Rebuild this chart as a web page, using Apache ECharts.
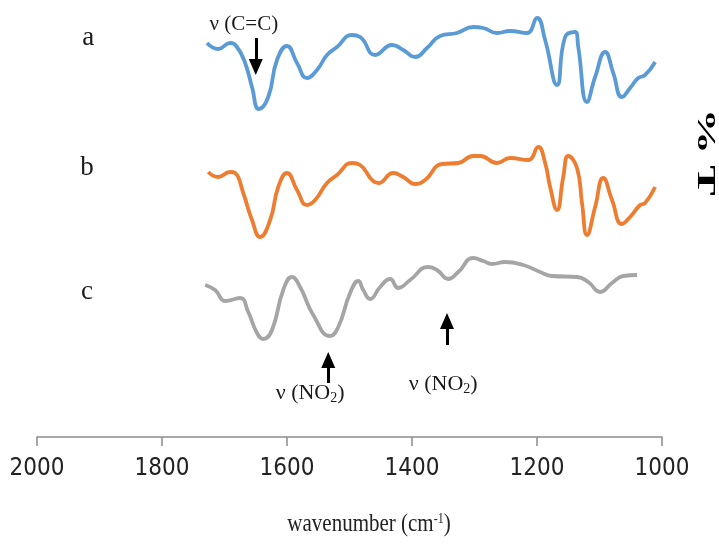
<!DOCTYPE html>
<html>
<head>
<meta charset="utf-8">
<script src="https://cdn.jsdelivr.net/npm/echarts@6/dist/echarts.min.js"></script>
<style>
  html, body { margin: 0; padding: 0; background: #fff; }
  #chart { width: 719px; height: 544px; }
</style>
</head>
<body>
<div id="chart"></div>
<script>
// wavenumber (cm-1) / relative transmittance (arbitrary offset units) for each spectrum
const waveA = [1728, 1710, 1691, 1680, 1667, 1656, 1645, 1630, 1616, 1600, 1584, 1568, 1552, 1536, 1520, 1496, 1483, 1459, 1432, 1414, 1395, 1376, 1355, 1328, 1302, 1286, 1264, 1243, 1216, 1200, 1187, 1168, 1155, 1139, 1134, 1120, 1107, 1091, 1078, 1064, 1051, 1038, 1027, 1011];
const transA = [394, 388, 394, 390, 374, 350, 328, 340, 377, 391, 374, 359, 367, 382, 390, 402, 400, 382, 392, 387, 380, 389, 401, 404, 410, 409, 404, 406, 404, 419, 397, 352, 400, 405, 390, 335, 360, 385, 364, 340, 349, 359, 362, 375];

const waveB = [1726, 1710, 1691, 1683, 1670, 1656, 1643, 1627, 1614, 1600, 1584, 1568, 1555, 1536, 1520, 1496, 1483, 1464, 1454, 1430, 1414, 1395, 1379, 1352, 1326, 1302, 1291, 1264, 1243, 1214, 1198, 1187, 1179, 1168, 1158, 1150, 1136, 1128, 1120, 1107, 1094, 1080, 1064, 1051, 1035, 1027, 1011];
const transB = [265, 260, 265, 264, 244, 217, 200, 217, 250, 264, 247, 232, 237, 254, 262, 274, 272, 257, 254, 264, 260, 253, 257, 273, 274, 281, 281, 274, 279, 277, 290, 274, 250, 227, 260, 281, 269, 234, 202, 230, 259, 237, 213, 220, 232, 234, 250];

const waveC = [1731, 1715, 1699, 1675, 1662, 1648, 1638, 1624, 1606, 1592, 1579, 1558, 1531, 1518, 1499, 1486, 1478, 1467, 1451, 1435, 1422, 1403, 1374, 1360, 1342, 1326, 1302, 1286, 1272, 1251, 1222, 1195, 1176, 1136, 1118, 1099, 1080, 1062, 1040];
const transC = [152, 147, 136, 139, 125, 104, 98, 107, 147, 160, 150, 122, 101, 110, 144, 156, 147, 138, 150, 158, 149, 157, 170, 167, 158, 165, 179, 176, 173, 175, 172, 165, 161, 160, 155, 145, 154, 161, 162];

const xTicks = [2000, 1800, 1600, 1400, 1200, 1000];

// annotation arrows: [wavenumber, tail, head centre]
const arrowCC = [1650, 399, 370];
const arrowNO2a = [1534, 54, 77];
const arrowNO2b = [1344, 92, 116];

// spectrum letters and band labels: [wavenumber, value]
const letterPos = { a: [1918, 399], b: [1920, 269], c: [1920, 145] };
const labelCC = [1669, 413];
const labelNO2a = [1563, 44];
const labelNO2b = [1350, 53];

const chart = echarts.init(document.getElementById('chart'));

const serif = 'Liberation Serif';

function arrow(a) {
  return [
    { coord: [a[0], a[1]], symbol: 'none' },
    { coord: [a[0], a[2]], symbol: 'triangle' }
  ];
}

function textMark(pos, formatter, size) {
  return {
    coord: pos,
    symbol: 'rect',
    symbolSize: 1,
    itemStyle: { color: 'rgba(0,0,0,0)' },
    label: {
      show: true,
      position: 'inside',
      formatter: formatter,
      color: '#1a1a1a',
      fontFamily: serif,
      fontSize: size,
      rich: {
        t: { fontFamily: serif, fontSize: size, color: '#1a1a1a' },
        s: { fontFamily: serif, fontSize: 14, color: '#1a1a1a', padding: [11, 0, 0, 0] }
      }
    }
  };
}

const arrowStyle = {
  silent: true,
  symbolSize: [14, 16],
  label: { show: false },
  lineStyle: { color: '#000', width: 3, type: 'solid' },
  emphasis: { disabled: true }
};

function zip(xs, ys) {
  return xs.map((x, i) => [x, ys[i]]);
}

const option = {
  animation: false,
  grid: { left: 37, right: 57, top: 0, bottom: 107 },
  xAxis: {
    type: 'value',
    min: 1000,
    max: 2000,
    interval: 200,
    inverse: true,
    axisLine: { lineStyle: { color: '#8c8c8c', width: 1.5 } },
    axisTick: { length: 9, lineStyle: { color: '#8c8c8c', width: 1.5 } },
    splitLine: { show: false },
    axisLabel: {
      margin: 20,
      fontSize: 24,
      color: '#222',
      fontFamily: 'Liberation Sans Narrow, DejaVu Sans Condensed, sans-serif',
      formatter: v => String(v),
      customValues: xTicks
    }
  },
  yAxis: {
    type: 'value',
    min: 0,
    max: 437,
    show: false
  },
  series: [
    {
      name: 'a',
      type: 'line',
      data: zip(waveA, transA),
      smooth: 0.5,
      showSymbol: false,
      lineStyle: { color: '#5B9BD5', width: 3.8 },
      markLine: Object.assign({ data: [arrow(arrowCC)] }, arrowStyle),
      markPoint: {
        silent: true,
        data: [
          textMark(letterPos.a, 'a', 27),
          textMark(labelCC, 'ν (C=C)', 21)
        ]
      }
    },
    {
      name: 'b',
      type: 'line',
      data: zip(waveB, transB),
      smooth: 0.5,
      showSymbol: false,
      lineStyle: { color: '#ED7D31', width: 3.8 },
      markPoint: {
        silent: true,
        data: [textMark(letterPos.b, 'b', 27)]
      }
    },
    {
      name: 'c',
      type: 'line',
      data: zip(waveC, transC),
      smooth: 0.5,
      showSymbol: false,
      lineStyle: { color: '#A5A5A5', width: 3.8 },
      markLine: Object.assign({ data: [arrow(arrowNO2a), arrow(arrowNO2b)] }, arrowStyle),
      markPoint: {
        silent: true,
        data: [
          textMark(letterPos.c, 'c', 27),
          textMark(labelNO2a, '{t|ν (NO}{s|2}{t|)}', 22),
          textMark(labelNO2b, '{t|ν (NO}{s|2}{t|)}', 22)
        ]
      }
    }
  ],
  graphic: [
    {
      type: 'text',
      x: 369,
      y: 525,
      scaleY: 1.15,
      style: {
        text: '{t|wavenumber (cm}{sup|-1}{t|)}',
        align: 'center',
        verticalAlign: 'middle',
        rich: {
          t: { fontFamily: serif, fontSize: 21, fill: '#222' },
          sup: { fontFamily: serif, fontSize: 12, fill: '#222', padding: [0, 0, 10, 0] }
        }
      }
    },
    {
      type: 'text',
      x: 705,
      y: 152,
      rotation: -Math.PI / 2,
      scaleX: 1.75,
      style: {
        text: '% T',
        font: 'bold 26px Liberation Serif',
        fill: '#000',
        align: 'center',
        verticalAlign: 'middle'
      }
    }
  ]
};

chart.setOption(option);
</script>
</body>
</html>
